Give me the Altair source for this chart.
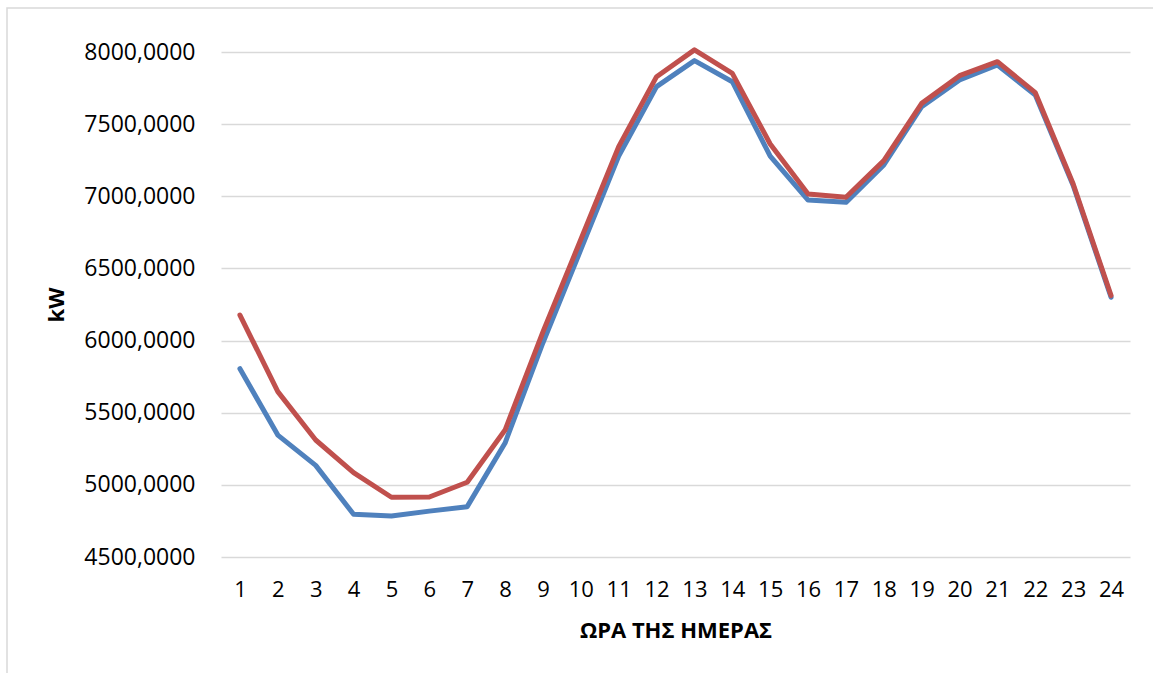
import altair as alt
import pandas as pd

# Hour of day (categories on the x axis)
hours = list(range(1, 25))

# Hourly load in kW, two profiles
load_blue = [5805, 5345, 5135, 4796, 4784, 4818, 4849, 5290, 5985, 6630, 7279, 7760,
             7940, 7794, 7279, 6974, 6958, 7217, 7621, 7806, 7910, 7702, 7075, 6300]
load_red = [6177, 5646, 5311, 5085, 4914, 4916, 5018, 5380, 6060, 6700, 7344, 7829,
            8015, 7852, 7362, 7016, 6993, 7247, 7644, 7836, 7933, 7718, 7085, 6312]

y_ticks = [4500, 5000, 5500, 6000, 6500, 7000, 7500, 8000]

df_blue = pd.DataFrame({"hour": hours, "kw": load_blue})
df_red = pd.DataFrame({"hour": hours, "kw": load_red})

LABEL_FONT = "Open Sans"

x_enc = alt.X(
    "hour:O",
    sort=hours,
    scale=alt.Scale(padding=0.5),
    axis=alt.Axis(
        title="ΩΡΑ ΤΗΣ ΗΜΕΡΑΣ",
        labelAngle=0,
        labelFont=LABEL_FONT,
        labelFontSize=22,
        labelColor="#000000",
        labelPadding=22,
        ticks=False,
        domain=False,
        titleFont=LABEL_FONT,
        titleFontSize=22,
        titleFontWeight="bold",
        titleColor="#000000",
        titlePadding=20,
    ),
)

y_enc = alt.Y(
    "kw:Q",
    scale=alt.Scale(domain=[4500, 8000], nice=False, zero=False),
    axis=alt.Axis(
        title="kW",
        values=y_ticks,
        labelExpr="replace(format(datum.value, '.4f'), '.', ',')",
        labelFont=LABEL_FONT,
        labelFontSize=23,
        labelColor="#000000",
        labelPadding=26,
        ticks=False,
        domain=False,
        grid=True,
        gridColor="#d9d9d9",
        gridWidth=1.3,
        titleFont=LABEL_FONT,
        titleFontSize=22,
        titleFontWeight="bold",
        titleColor="#000000",
        titlePadding=15,
    ),
)

line_style = dict(strokeWidth=5, strokeJoin="round", strokeCap="round")

blue_line = alt.Chart(df_blue).mark_line(color="#4f81bd", **line_style).encode(x=x_enc, y=y_enc)
red_line = alt.Chart(df_red).mark_line(color="#c0504d", **line_style).encode(x=x_enc, y=y_enc)

# Light frame around the whole chart area
frame = alt.Chart(pd.DataFrame({"k": [0]})).mark_rect(
    fill=None, stroke="#d9d9d9", strokeWidth=1.5
).encode(
    x=alt.value(-214), x2=alt.value(945),
    y=alt.value(-44), y2=alt.value(640),
)

chart = alt.layer(frame, blue_line, red_line).properties(
    width=909,
    height=505,
    autosize=alt.AutoSizeParams(type="none"),
    padding={"left": 221, "top": 52, "right": 23, "bottom": 116},
    background="#ffffff",
).configure_view(stroke=None)

chart.save("out.html", embed_options={"renderer": "svg", "actions": False})
